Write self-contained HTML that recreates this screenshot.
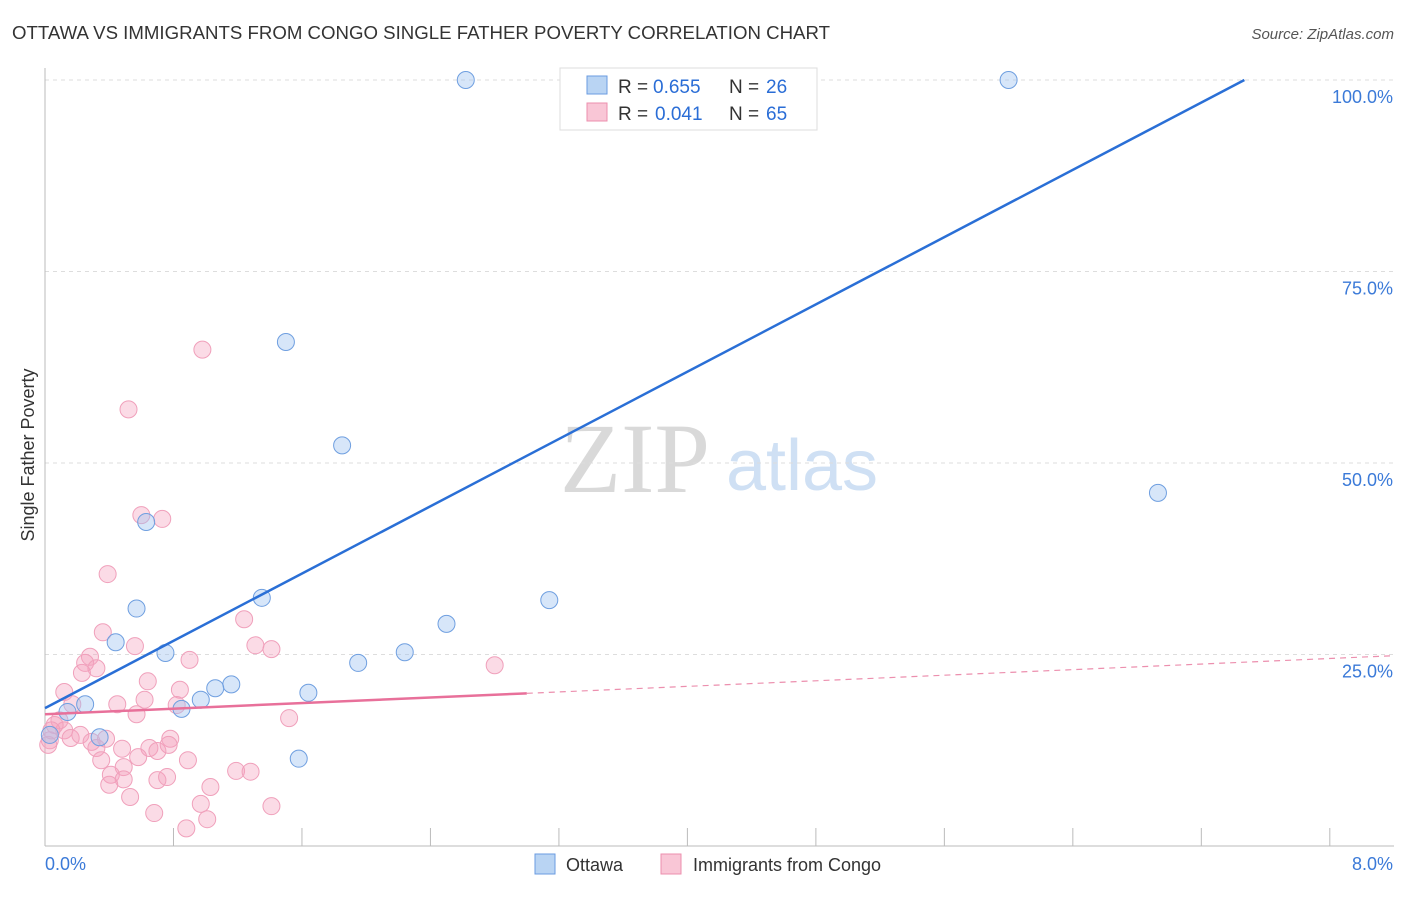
<!DOCTYPE html>
<html><head><meta charset="utf-8"><style>
body{margin:0;background:#fff;font-family:"Liberation Sans",sans-serif}
</style></head><body>
<svg width="1406" height="892" font-family="Liberation Sans, sans-serif">
<text x="12" y="39" font-size="18" fill="#333" textLength="818" lengthAdjust="spacingAndGlyphs">OTTAWA VS IMMIGRANTS FROM CONGO SINGLE FATHER POVERTY CORRELATION CHART</text>
<text x="1394" y="39" font-size="15" fill="#555" font-style="italic" text-anchor="end">Source: ZipAtlas.com</text>
<text x="635" y="492" font-size="100" fill="#d9d9d9" style="font-family:'Liberation Serif',serif" text-anchor="middle">ZIP</text>
<text x="802" y="490" font-size="72" fill="#cfe0f4" text-anchor="middle">atlas</text>
<g id="grid"></g><g id="axes"></g><g id="pts"></g><g id="lines"></g>
<text x="34" y="455" font-size="18" fill="#333" text-anchor="middle" transform="rotate(-90 34 455)">Single Father Poverty</text>
<g>
<rect x="560" y="68" width="257" height="62" fill="#fff" stroke="#ddd"/>
<rect x="587" y="76" width="20" height="18" fill="#b9d4f3" stroke="#6a9be0"/>
<rect x="587" y="103" width="20" height="18" fill="#f9c6d6" stroke="#ec8fae"/>
<text x="618" y="93" font-size="19" fill="#333">R =</text>
<text x="653" y="93" font-size="19" fill="#2a6dd6">0.655</text>
<text x="729" y="93" font-size="19" fill="#333">N =</text>
<text x="766" y="93" font-size="19" fill="#2a6dd6">26</text>
<text x="618" y="120" font-size="19" fill="#333">R =</text>
<text x="655" y="120" font-size="19" fill="#2a6dd6">0.041</text>
<text x="729" y="120" font-size="19" fill="#333">N =</text>
<text x="766" y="120" font-size="19" fill="#2a6dd6">65</text>
</g>
<g>
<rect x="535" y="854" width="20" height="20" fill="#b9d4f3" stroke="#6a9be0"/>
<text x="566" y="871" font-size="18" fill="#333">Ottawa</text>
<rect x="661" y="854" width="20" height="20" fill="#f9c6d6" stroke="#ec8fae"/>
<text x="693" y="871" font-size="18" fill="#333">Immigrants from Congo</text>
</g>
</svg>
<script>
const xTicks=[0,0.8,1.6,2.4,3.2,4,4.8,5.6,6.4,7.2,8];
const yTicks=[25,50,75,100];
const yTickLabels=["25.0%","50.0%","75.0%","100.0%"];
const xEndLabels=["0.0%","8.0%"];
const ottawaX=[2.62,6.00,3.56,4.57,1.50,1.85,6.93,0.63,0.57,1.35,3.14,0.44,2.50,0.75,2.24,1.95,1.16,1.06,1.64,0.25,0.97,0.85,0.14,0.34,1.58,0.03];
const ottawaY=[100,100,100,100,65.8,52.3,46.1,42.3,31.0,32.4,32.1,26.6,29.0,25.2,25.3,23.9,21.1,20.6,20.0,18.5,19.1,17.9,17.5,14.2,11.4,14.5];
const congoX=[0.98,0.52,0.60,0.73,0.39,0.36,0.56,0.28,0.25,0.32,0.23,0.90,1.24,1.31,1.41,0.64,0.84,0.62,0.12,0.17,0.45,0.57,0.82,1.52,2.80,0.09,0.12,0.03,0.16,0.22,0.29,0.38,0.48,0.32,0.35,0.65,0.70,0.78,0.77,0.58,0.89,0.49,0.41,0.70,0.76,1.19,1.28,0.49,0.40,1.03,0.53,0.97,1.41,0.68,1.01,0.88,0.06,0.02,0.04];
const congoY=[64.8,57.0,43.2,42.7,35.5,27.9,26.1,24.7,23.9,23.2,22.6,24.3,29.6,26.2,25.7,21.5,20.4,19.1,20.1,18.5,18.5,17.2,18.4,16.7,23.6,16.4,15.1,13.8,14.1,14.5,13.6,14.0,12.7,12.8,11.2,12.8,12.4,14.0,13.2,11.6,11.2,10.3,9.3,8.6,9.0,9.8,9.7,8.7,8.0,7.7,6.4,5.5,5.2,4.3,3.5,2.3,15.8,13.2,15.1];
const ottawaTrend=[18.0,10.98];
const congoTrend=[17.2,0.91];
const NS="http://www.w3.org/2000/svg";
const X=v=>45+v*160.6, Y=v=>846-v*7.66;
function mk(tag,at,parent){const e=document.createElementNS(NS,tag);for(const k in at)e.setAttribute(k,at[k]);document.getElementById(parent).appendChild(e);return e;}
yTicks.forEach((t,i)=>{
 const g=mk('line',{x1:45,x2:1394,y1:Y(t),y2:Y(t),stroke:'#ddd','stroke-dasharray':'4 4'},'grid');
 
 
 const l=mk('text',{x:1393,y:Y(t)+23,'font-size':18,fill:'#3b7ad8','text-anchor':'end'},'grid');l.textContent=yTickLabels[i];
 
 
});
const ax=mk('line',{x1:45,x2:45,y1:68,y2:846,stroke:'#bbb'},'axes');


const bx=mk('line',{x1:45,x2:1394,y1:846,y2:846,stroke:'#bbb'},'axes');


xTicks.forEach(t=>{const e=mk('line',{x1:X(t),x2:X(t),y1:828,y2:846,stroke:'#bbb'},'axes');
 
 });
[[0,45,'start'],[8,1393,'end']].forEach((a,i)=>{const e=mk('text',{x:a[1],y:870,'font-size':18,fill:'#3b7ad8','text-anchor':a[2]},'axes');e.textContent=xEndLabels[i];
 
 });
congoX.forEach((x,i)=>{const c=mk('circle',{cx:X(x),cy:Y(congoY[i]),r:8.5,fill:'rgba(244,160,188,0.38)',stroke:'#f0a0bb','stroke-width':1},'pts');
 
 });
ottawaX.forEach((x,i)=>{const c=mk('circle',{cx:X(x),cy:Y(ottawaY[i]),r:8.5,fill:'rgba(160,196,240,0.42)',stroke:'#6f9fe0','stroke-width':1},'pts');
 
 });
const bl=mk('line',{x1:X(0),y1:Y(ottawaTrend[0]),x2:X((100-ottawaTrend[0])/ottawaTrend[1]),y2:Y(100),stroke:'#2a6fd6','stroke-width':2.5},'lines');


const pl=mk('line',{x1:X(0),y1:Y(congoTrend[0]),x2:X(3),y2:Y(congoTrend[0]+3*congoTrend[1]),stroke:'#e8709a','stroke-width':2.5},'lines');


const pd=mk('line',{x1:X(3),y1:Y(congoTrend[0]+3*congoTrend[1]),x2:X(8.39),y2:Y(congoTrend[0]+8.39*congoTrend[1]),stroke:'#ec8fae','stroke-width':1.2,'stroke-dasharray':'6 5'},'lines');


</script>
</body></html>
